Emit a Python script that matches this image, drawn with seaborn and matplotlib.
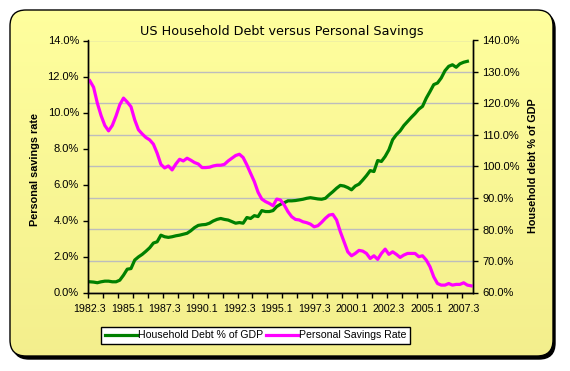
import numpy as np
import pandas as pd
import matplotlib
matplotlib.use("Agg")
import matplotlib.pyplot as plt
from matplotlib.patches import FancyBboxPatch
from matplotlib.lines import Line2D
import seaborn as sns

# Quarterly values, 1982 Q3 .. 2008 Q1
savings_rate = [
    11.76, 11.40, 10.52, 9.83, 9.28, 8.98, 9.28, 9.81, 10.43, 10.80,
    10.58, 10.32, 9.59, 9.04, 8.81, 8.61, 8.48, 8.24, 7.74, 7.12,
    6.92, 7.03, 6.81, 7.14, 7.40, 7.31, 7.46, 7.35, 7.22, 7.14,
    6.94, 6.94, 6.96, 7.03, 7.07, 7.07, 7.12, 7.31, 7.46, 7.61,
    7.68, 7.50, 7.09, 6.62, 6.16, 5.57, 5.19, 5.05, 4.95, 4.82,
    5.19, 5.14, 4.86, 4.49, 4.21, 4.06, 4.03, 3.93, 3.88, 3.80,
    3.65, 3.71, 3.90, 4.12, 4.30, 4.34, 4.03, 3.38, 2.82, 2.26,
    2.04, 2.17, 2.34, 2.30, 2.17, 1.89, 2.04, 1.84, 2.17, 2.41,
    2.12, 2.26, 2.12, 1.95, 2.08, 2.17, 2.17, 2.17, 1.99, 2.04,
    1.80, 1.43, 0.87, 0.50, 0.41, 0.41, 0.50, 0.41, 0.45, 0.45,
    0.54, 0.41, 0.37,
]
debt_gdp = [
    63.4, 63.3, 63.1, 63.4, 63.6, 63.6, 63.4, 63.4, 63.9, 65.5,
    67.4, 67.6, 70.3, 71.3, 72.1, 73.1, 74.2, 75.7, 76.1, 78.2,
    77.7, 77.5, 77.7, 78.0, 78.2, 78.5, 78.8, 79.6, 80.6, 81.3,
    81.5, 81.6, 82.0, 82.7, 83.2, 83.5, 83.2, 83.0, 82.5, 82.0,
    82.2, 82.0, 83.8, 83.5, 84.4, 84.1, 86.0, 85.7, 85.7, 86.0,
    87.3, 88.0, 88.5, 89.1, 89.1, 89.2, 89.4, 89.6, 89.9, 90.1,
    89.9, 89.7, 89.6, 89.9, 91.0, 92.0, 93.1, 94.0, 93.8, 93.3,
    92.6, 93.8, 94.4, 95.7, 97.1, 98.7, 98.4, 101.9, 101.6, 103.2,
    105.3, 108.5, 110.1, 111.3, 113.0, 114.3, 115.6, 116.8, 118.2, 119.1,
    121.7, 123.8, 126.0, 126.5, 128.1, 130.4, 131.8, 132.3, 131.5, 132.6,
    133.1, 133.4, np.nan,
]
x_labels = ['1982.3', '1985.1', '1987.3', '1990.1', '1992.3', '1995.1',
            '1997.3', '2000.1', '2002.3', '2005.1', '2007.3']
left_ticks = [0, 2, 4, 6, 8, 10, 12, 14]
right_ticks = [60, 70, 80, 90, 100, 110, 120, 130, 140]

df = pd.DataFrame({'q': np.arange(len(savings_rate)),
                   'savings': savings_rate, 'debt': debt_gdp})

plt.rcParams['font.family'] = ['Liberation Sans', 'DejaVu Sans']
W, H = 570, 371
fig = plt.figure(figsize=(W / 100, H / 100), dpi=100)
fig.patch.set_facecolor('white')

# chart area: rounded yellow box with black shadow, drawn in a background axes
bg = fig.add_axes([0, 0, 1, 1], zorder=-1)
bg.set_axis_off()
bg.set_xlim(0, 1)
bg.set_ylim(0, 1)
shadow = FancyBboxPatch((13 / W, 1 - 359 / H), 542 / W, 346 / H,
                        boxstyle="round,pad=0,rounding_size=0.028",
                        transform=bg.transAxes, facecolor='black',
                        edgecolor='black', mutation_aspect=W / H)
bg.add_patch(shadow)
box = FancyBboxPatch((10 / W, 1 - 356 / H), 543 / W, 346 / H,
                     boxstyle="round,pad=0,rounding_size=0.028",
                     transform=bg.transAxes, facecolor='none',
                     edgecolor='black', linewidth=1.0, mutation_aspect=W / H,
                     zorder=3)
bg.add_patch(box)
grad = np.linspace(0, 1, 256).reshape(-1, 1)
im = bg.imshow(grad, extent=[0, 1, 0, 1], aspect='auto', origin='lower',
               cmap=matplotlib.colors.LinearSegmentedColormap.from_list(
                   'y', ['#F3EE8C', '#FFFF9E']), zorder=2)
im.set_clip_path(box)

left, right, top, bottom = 88 / W, 473 / W, 40.5 / H, 292.5 / H
ax1 = fig.add_axes([left, 1 - bottom, right - left, bottom - top])
ax2 = ax1.twinx()
ax1.set_zorder(ax2.get_zorder() + 1)
ax1.patch.set_visible(False)
ax2.patch.set_visible(False)

sns.lineplot(data=df, x='q', y='debt', ax=ax2, color='#008000', lw=2.3)
sns.lineplot(data=df, x='q', y='savings', ax=ax1, color='#FF00FF', lw=2.3)

n = len(savings_rate)
ax1.set_xlim(-0.5, n - 0.5)
ax1.set_ylim(0, 14)
ax2.set_ylim(60, 140)

ax1.set_xticks(np.arange(-0.5, n, 4))
ax1.set_xticklabels([])
ax1.set_xticks(np.arange(0, n, 10), minor=True)
ax1.set_xticklabels(x_labels, minor=True, fontsize=7.7)
ax1.tick_params(axis='x', which='major', direction='out', length=3.5, width=1)
ax1.tick_params(axis='x', which='minor', length=0, pad=8)

ax1.set_yticks(left_ticks)
ax1.set_yticklabels([f"{v:.1f}%" for v in left_ticks], fontsize=8)
ax2.set_yticks(right_ticks)
ax2.set_yticklabels([f"{v:.1f}%" for v in right_ticks], fontsize=8)
ax1.tick_params(axis='y', direction='out', length=3.5, width=1, pad=3)
ax2.tick_params(axis='y', direction='out', length=3.5, width=1, pad=3)

ax2.grid(axis='y', color='#BDBDBD', lw=1)
ax2.set_axisbelow(True)
for a in (ax1, ax2):
    a.spines['top'].set_visible(False)
    for s in ('left', 'right', 'bottom'):
        a.spines[s].set_color('black')
        a.spines[s].set_linewidth(1)
    a.set_xlabel('')
    a.set_ylabel('')

fig.text(282 / W, 1 - 31 / H, 'US Household Debt versus Personal Savings',
         ha='center', va='center', fontsize=9.2, family='DejaVu Sans')
fig.text(35 / W, 1 - 170 / H, 'Personal savings rate', rotation=90,
         ha='center', va='center', fontsize=7.8, fontweight='bold')
fig.text(533 / W, 1 - 166 / H, 'Household debt % of GDP', rotation=90,
         ha='center', va='center', fontsize=7.8, fontweight='bold')

handles = [Line2D([], [], color='#008000', lw=2.3),
           Line2D([], [], color='#FF00FF', lw=2.3)]
leg = fig.legend(handles, ['Household Debt % of GDP', 'Personal Savings Rate'],
                 loc='center', bbox_to_anchor=(255.5 / W, 1 - 335.5 / H), ncol=2,
                 fontsize=7.6, frameon=True, fancybox=False, framealpha=1,
                 edgecolor='black', handlelength=3.0, handletextpad=0.1,
                 columnspacing=0.3, borderpad=0.35)
leg.get_frame().set_linewidth(1)

fig.savefig('out.png', dpi=100)
